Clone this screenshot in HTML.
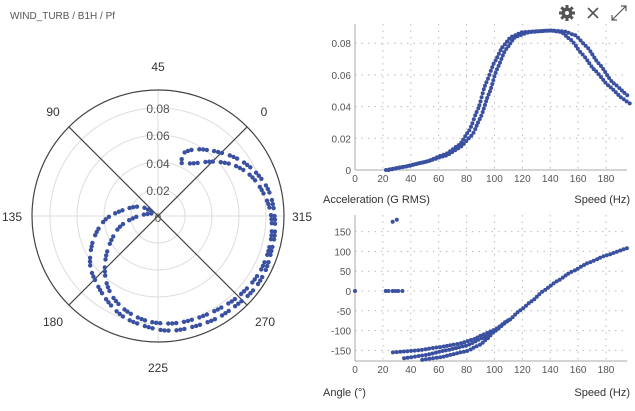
<!DOCTYPE html>
<html><head><meta charset="utf-8"><style>
body{margin:0;background:#fff;width:635px;height:406px;overflow:hidden;font-family:"Liberation Sans",sans-serif}
svg text{font-family:"Liberation Sans",sans-serif}
</style></head><body>
<svg id="s" width="635" height="406" xmlns="http://www.w3.org/2000/svg">
<text x="10" y="19" font-size="10" fill="#555">WIND_TURB / B1H / Pf</text>
<g id="polar"></g>
<g id="c1"></g>
<g id="c2"></g>
<g fill="#555" stroke="#555">
<circle cx="567" cy="13" r="5.5" stroke="none"/>
<g stroke-width="3" stroke-linecap="butt"><line x1="567" y1="5" x2="567" y2="21"/><line x1="559" y1="13" x2="575" y2="13"/><line x1="561.3" y1="7.3" x2="572.7" y2="18.7"/><line x1="561.3" y1="18.7" x2="572.7" y2="7.3"/></g>
<circle cx="567" cy="13" r="2" fill="#fff" stroke="none"/>
<g stroke-width="1.6"><line x1="588" y1="8" x2="598" y2="18"/><line x1="598" y1="8" x2="588" y2="18"/></g>
<g stroke-width="1.2"><line x1="612" y1="20" x2="626" y2="6"/><polyline fill="none" points="621,6 626,6 626,11"/><polyline fill="none" points="612,15 612,20 617,20"/></g>
</g>
</svg>
<script>
const NS="http://www.w3.org/2000/svg";
function el(p,t,a,txt){const e=document.createElementNS(NS,t);for(const k in a)e.setAttribute(k,a[k]);if(txt!==undefined)e.textContent=txt;p.appendChild(e);return e;}
const C="#3a50a0";
function dotsAlong(G,pts,spacing,r,skip){let acc=spacing;let k=0;for(let i=1;i<pts.length;i++){const L=Math.hypot(pts[i][0]-pts[i-1][0],pts[i][1]-pts[i-1][1]);acc+=L;if(acc>=spacing){acc=0;k++;if(skip&&k%skip===0)continue;el(G,'circle',{cx:pts[i][0].toFixed(1),cy:pts[i][1].toFixed(1),r,fill:C});}}}
// Polar
const P=document.getElementById('polar');const cx=158,cy=216;
[27,54,81,108].forEach(r=>el(P,'circle',{cx,cy,r,fill:'none',stroke:'#ddd','stroke-width':1}));
el(P,'line',{x1:cx-126,y1:cy,x2:cx+126,y2:cy,stroke:'#ddd'});
el(P,'line',{x1:cx,y1:cy-126,x2:cx,y2:cy+126,stroke:'#ddd'});
const d=126*Math.SQRT1_2;
el(P,'line',{x1:cx-d,y1:cy-d,x2:cx+d,y2:cy+d,stroke:'#444','stroke-width':1.2});
el(P,'line',{x1:cx-d,y1:cy+d,x2:cx+d,y2:cy-d,stroke:'#444','stroke-width':1.2});
el(P,'circle',{cx,cy,r:126,fill:'none',stroke:'#444','stroke-width':1.2});
[['0.08',113],['0.06',140],['0.04',168],['0.02',195],['0',222]].forEach(([t,y])=>el(P,'text',{x:cx,y,'font-size':12,fill:'#555','text-anchor':'middle'},t));
const al=[['45',158,71],['0',264,116],['315',302,221],['270',265,326],['225',158,372],['180',53,326],['135',12,221],['90',53,116]];
al.forEach(([t,x,y])=>el(P,'text',{x,y,'font-size':12,fill:'#333','text-anchor':'middle'},t));
function catmull(pts,step){const out=[];for(let i=0;i<pts.length-1;i++){const p0=pts[Math.max(i-1,0)],p1=pts[i],p2=pts[i+1],p3=pts[Math.min(i+2,pts.length-1)];const L=Math.hypot(p2[0]-p1[0],p2[1]-p1[1]);const n=Math.max(1,Math.round(L/step));for(let j=0;j<n;j++){const t=j/n,t2=t*t,t3=t2*t;const f=(a,b,c,e)=>0.5*((2*b)+(-a+c)*t+(2*a-5*b+4*c-e)*t2+(-a+3*b-3*c+e)*t3);out.push([f(p0[0],p1[0],p2[0],p3[0]),f(p0[1],p1[1],p2[1],p3[1])]);}}out.push(pts[pts.length-1]);return out;}
const outer=[[215,215],[180,200],[130,210],[75,240],[40,300],[30,370],[45,420],[80,480],[130,530],[200,560],[270,572],[340,560],[410,535],[470,495],[520,450],[555,395],[575,330],[585,270],[580,200],[560,140],[520,90],[470,55],[410,35],[350,28],[310,40],[305,70]];
const inner=[[215,220],[170,230],[120,260],[90,310],[75,370],[80,430],[105,480],[150,520],[210,545],[280,550],[350,535],[420,505],[480,465],[530,410],[560,350],[575,280],[570,210],[545,150],[510,105],[460,75],[400,65],[340,70],[310,70]];
[outer,inner].forEach(pl=>{const pts=pl.map(p=>[80+p[0]/3,140+p[1]/3]);dotsAlong(P,catmull(pts,0.5),3.6,2.2,4);});
function interp(pts,x){for(let i=0;i<pts.length-1;i++){if(x>=pts[i][0]&&x<=pts[i+1][0]){const t=(x-pts[i][0])/(pts[i+1][0]-pts[i][0]);const s=t*t*(3-2*t)*0.3+t*0.7;return pts[i][1]+(pts[i+1][1]-pts[i][1])*s;}}return null;}
function axes(G,top,bot,yt,ymap,ylab){const L=355,R=627;const X=v=>L+v*251/180;
for(let v=20;v<=180;v+=20)el(G,'line',{x1:X(v),y1:top,x2:X(v),y2:bot,stroke:'#bbb','stroke-dasharray':'1.5,5'});
yt.forEach(v=>{const y=ymap(v);if(Math.abs(y-bot)>1)el(G,'line',{x1:L,y1:y,x2:R,y2:y,stroke:'#bbb','stroke-dasharray':'1.5,5'});el(G,'text',{x:L-4,y:y+4,'font-size':10,fill:'#555','text-anchor':'end'},ylab(v));});
el(G,'line',{x1:L,y1:top,x2:L,y2:bot,stroke:'#aaa'});el(G,'line',{x1:L,y1:bot,x2:R,y2:bot,stroke:'#aaa'});
for(let v=0;v<=180;v+=20)el(G,'text',{x:X(v),y:bot+12,'font-size':10,fill:'#555','text-anchor':'middle'},v);return X;}
function curve(G,c,X,Y,clip){const e=c[c.length-1][0];const pts=[];for(let s=c[0][0];s<=e;s+=0.2){const v=interp(c,s);if(v!==null)pts.push([X(s),Y(v)]);}const pp=clip?pts.filter(p=>p[1]<=clip):pts;dotsAlong(G,pp,3.4,2,0);}
const G1=document.getElementById('c1');const Y1=v=>170-v*1585;
const X1=axes(G1,24,170,[0,0.02,0.04,0.06,0.08],Y1,v=>v===0?'0':v.toFixed(2));
el(G1,'text',{x:323,y:203,'font-size':11,fill:'#333'},'Acceleration (G RMS)');
el(G1,'text',{x:630,y:203,'font-size':11,fill:'#333','text-anchor':'end'},'Speed (Hz)');
const a1=[[22,0],[35,0.002],[50,0.005],[65,0.01],[75,0.016],[82,0.025],[88,0.038],[94,0.055],[100,0.068],[106,0.078],[112,0.084],[120,0.087],[140,0.088],[150,0.0875],[158,0.085],[166,0.078],[175,0.067],[185,0.055],[197,0.046]];
const a2=[[24,0],[35,0.002],[50,0.005],[65,0.009],[75,0.014],[84,0.022],[90,0.033],[96,0.048],[102,0.064],[108,0.076],[115,0.084],[125,0.087],[140,0.088],[148,0.087],[155,0.082],[163,0.073],[172,0.063],[182,0.053],[192,0.045],[197,0.042]];
[a1,a2].forEach(c=>curve(G1,c,X1,Y1));
const G2=document.getElementById('c2');const Y2=v=>291-v*0.396;
const X2=axes(G2,215,361,[150,100,50,0,-50,-100,-150],Y2,v=>String(v));
el(G2,'text',{x:323,y:396,'font-size':11,fill:'#333'},'Angle (°)');
el(G2,'text',{x:630,y:396,'font-size':11,fill:'#333','text-anchor':'end'},'Speed (Hz)');
const p1=[[40,-178],[60,-168],[80,-152],[90,-135],[95,-120],[100,-102],[110,-75],[118,-50],[127,-25],[135,0],[145,25],[155,48],[168,72],[180,90],[197,110]];
const p2=[[27,-155],[45,-150],[60,-142],[75,-133],[85,-122],[92,-110],[100,-98],[110,-74]];
const p3=[[35,-170],[50,-162],[65,-150],[80,-138],[92,-118],[100,-100]];
[p1,p2,p3].forEach(c=>curve(G2,c,X2,Y2,360));
[[27,175],[30,180],[22,0],[24,0],[27,0],[29,0],[31,0],[34,0],[0,0]].forEach(([s,v])=>el(G2,'circle',{cx:X2(s),cy:Y2(v),r:2,fill:C}));
</script>
</body></html>
